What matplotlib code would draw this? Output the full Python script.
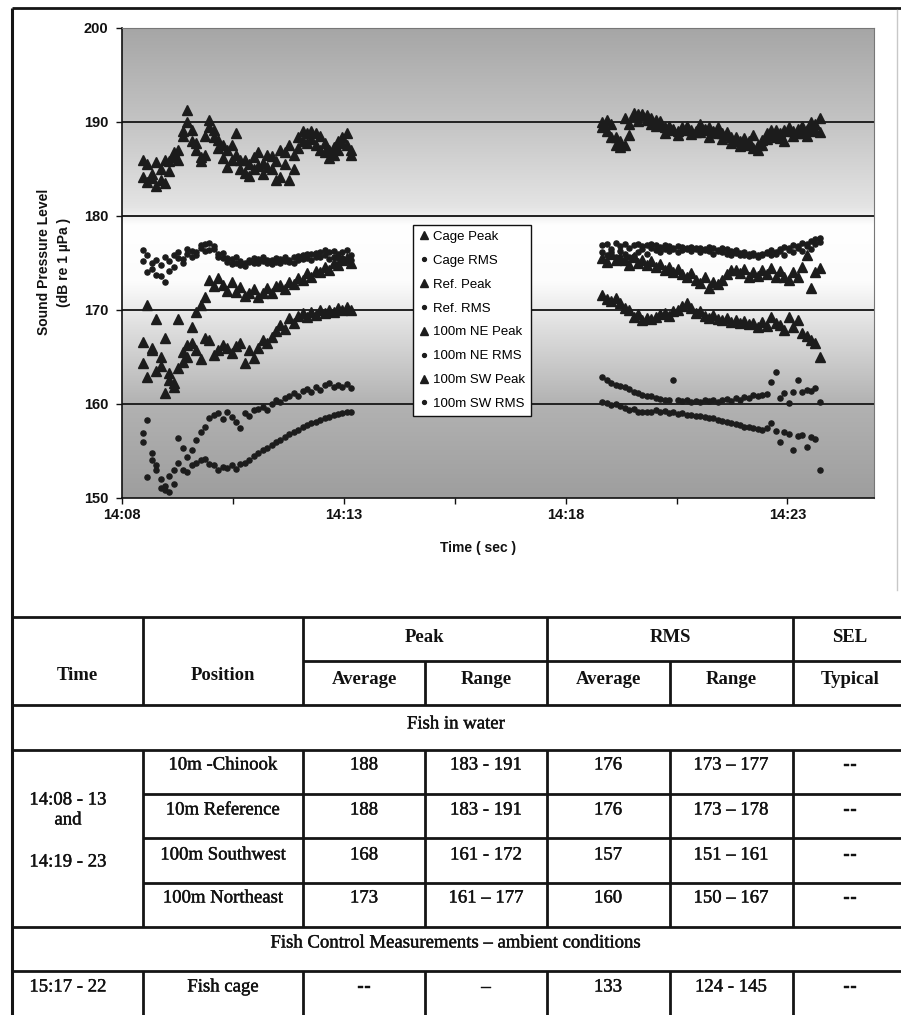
import numpy as np
import matplotlib
matplotlib.use("Agg")
import matplotlib.pyplot as plt
import matplotlib.patheffects as pe
from matplotlib.colors import LinearSegmentedColormap
from matplotlib.lines import Line2D

# time axis = minutes after 14:08, one sample every 6 s
seg1_start, seg2_start, sample_step = 0.47, 10.83, 0.1

# ---- first burst 14:08 - 14:13 ----
cage_peak_1 = [186.0, 185.5, 184.0, 185.7, 183.8, 183.5, 185.8, 186.3, 187.0, 189.0, 191.3, 189.1,
               187.8, 186.3, 188.5, 190.2, 189.1, 188.1, 187.5, 187.0, 186.0, 188.8, 186.0, 184.6,
               185.5, 186.3, 185.3, 185.6, 186.5, 185.0, 183.8, 187.0, 185.5, 183.8, 186.5, 188.4,
               188.0, 188.8, 188.2, 188.8, 187.0, 186.8, 187.0, 187.3, 188.0, 188.4, 187.5, 187.0]
ref_peak_1 = [184.2, 183.6, 184.5, 183.2, 185.0, 186.0, 184.8, 186.8, 186.0, 188.5, 190.0, 188.0,
              187.0, 185.8, 186.5, 189.5, 188.4, 187.2, 186.2, 185.2, 187.5, 186.5, 185.0, 186.0,
              184.3, 185.0, 186.8, 184.5, 185.2, 186.4, 185.8, 184.2, 186.8, 187.5, 185.0, 187.2,
              189.0, 187.8, 189.0, 187.5, 188.5, 187.8, 186.2, 186.5, 187.0, 187.8, 188.8, 186.5]
cage_rms_1 = [176.4, 174.0, 175.0, 173.7, 174.8, 173.0, 175.2, 174.6, 175.5, 175.0, 176.0, 175.6,
              176.2, 176.6, 176.3, 177.1, 176.5, 176.0, 175.5, 175.1, 175.4, 175.0, 174.8, 175.0,
              175.3, 175.0, 175.4, 175.2, 175.0, 175.3, 175.1, 175.4, 175.2, 175.3, 175.6, 175.3,
              175.8, 175.5, 176.0, 175.6, 176.2, 175.8, 176.2, 175.6, 176.0, 175.5, 175.2, 175.8]
ref_rms_1 = [175.2, 175.8, 174.4, 175.3, 173.6, 175.6, 174.2, 175.9, 176.2, 175.4, 176.5, 176.3,
             175.8, 176.9, 177.0, 176.4, 176.8, 175.6, 176.1, 175.5, 174.9, 175.6, 175.2, 174.7,
             175.1, 175.5, 175.0, 175.6, 175.3, 174.9, 175.5, 175.0, 175.6, 175.1, 175.0, 175.7,
             175.4, 176.0, 175.3, 176.1, 175.6, 176.4, 175.4, 176.3, 175.5, 176.2, 176.4, 175.3]
ne_peak_1 = [164.4, 162.9, 166.0, 163.5, 165.0, 161.2, 162.5, 161.8, 163.8, 165.5, 166.3, 168.2,
             169.8, 170.5, 171.4, 173.2, 172.5, 173.4, 172.7, 172.0, 173.0, 171.9, 172.4, 171.5,
             171.8, 172.2, 171.4, 171.8, 172.3, 171.8, 172.5, 172.7, 172.2, 173.0, 172.8, 173.4,
             173.2, 173.9, 173.5, 174.2, 174.0, 174.6, 174.3, 175.0, 174.8, 175.3, 175.5, 175.0]
ne_rms_1 = [156.9, 158.3, 154.0, 153.0, 151.1, 150.8, 152.3, 153.0, 153.7, 155.3, 154.4, 155.1,
            156.2, 157.0, 157.6, 158.5, 158.8, 159.0, 158.4, 159.1, 158.6, 158.1, 157.4, 159.0,
            158.7, 159.4, 159.5, 159.7, 159.4, 160.0, 160.4, 160.2, 160.6, 160.8, 161.2, 160.9,
            161.4, 161.6, 161.3, 161.8, 161.5, 162.0, 162.2, 161.8, 162.0, 161.8, 162.1, 161.7]
sw_peak_1 = [166.6, 170.5, 165.7, 169.0, 164.0, 167.0, 163.3, 162.2, 169.0, 164.5, 165.0, 166.5,
             165.7, 164.8, 167.0, 166.8, 165.2, 165.7, 166.3, 166.0, 165.4, 166.2, 166.5, 164.4,
             165.7, 164.9, 166.0, 166.8, 166.5, 167.1, 167.8, 168.4, 168.0, 169.1, 168.6, 169.4,
             169.7, 169.3, 169.8, 169.5, 170.0, 169.7, 170.0, 169.8, 170.2, 170.0, 170.3, 170.0]
sw_rms_1 = [156.0, 152.2, 154.8, 153.5, 152.0, 151.3, 150.6, 151.5, 156.4, 153.0, 152.8, 153.5,
            153.7, 154.0, 154.2, 153.6, 153.5, 153.0, 153.3, 153.2, 153.5, 153.1, 153.6, 153.7,
            154.0, 154.5, 154.8, 155.1, 155.3, 155.6, 156.0, 156.2, 156.5, 156.8, 157.0, 157.2,
            157.5, 157.8, 158.0, 158.1, 158.3, 158.5, 158.6, 158.8, 158.9, 159.0, 159.1, 159.2]

# ---- second burst 14:19 - 14:23 ----
cage_peak_2 = [189.5, 190.2, 188.4, 188.4, 187.3, 187.5, 188.6, 191.0, 190.8, 190.7,
               190.7, 190.4, 190.2, 189.8, 189.5, 189.3, 189.1, 189.0, 189.2, 189.3,
               189.1, 188.9, 188.9, 189.2, 189.5, 189.0, 188.8, 188.8, 188.6, 188.4,
               188.4, 188.0, 187.8, 187.5, 187.2, 187.0, 188.1, 188.8, 189.1, 188.4,
               188.8, 189.2, 189.5, 189.0, 188.8, 188.8, 189.2, 189.5, 189.8, 190.4]
ref_peak_2 = [190.0, 189.0, 189.8, 187.6, 188.0, 190.4, 189.8, 190.6, 190.1, 190.9,
              190.2, 189.8, 189.6, 190.1, 188.8, 189.6, 189.3, 188.6, 189.5, 189.6,
              188.7, 189.0, 189.8, 189.3, 188.4, 188.9, 189.5, 188.2, 188.9, 187.8,
              188.0, 187.4, 188.3, 188.0, 188.6, 187.6, 187.5, 188.2, 188.6, 189.2,
              188.3, 188.0, 189.0, 188.5, 189.3, 189.6, 188.5, 190.0, 189.0, 188.9]
cage_rms_2 = [176.9, 177.0, 176.2, 177.1, 176.8, 177.0, 175.6, 176.9, 177.0, 176.8,
              176.9, 177.0, 176.9, 176.7, 176.9, 176.8, 176.6, 176.8, 176.7, 176.5,
              176.7, 176.6, 176.6, 176.5, 176.7, 176.6, 176.4, 176.6, 176.5, 176.3,
              176.4, 176.1, 176.2, 176.0, 176.1, 175.9, 176.0, 176.1, 176.4, 176.2,
              176.5, 176.7, 176.6, 176.9, 176.8, 177.1, 177.0, 177.3, 177.5, 177.7]
ref_rms_2 = [176.2, 175.8, 176.5, 175.6, 176.3, 176.0, 176.6, 175.7, 176.2, 176.5,
             176.0, 176.6, 176.4, 176.2, 176.5, 176.3, 176.5, 176.2, 176.4, 176.6,
             176.3, 176.5, 176.2, 176.4, 176.3, 176.0, 176.3, 176.2, 176.0, 175.9,
             176.1, 175.8, 175.9, 175.7, 175.8, 175.6, 175.9, 176.2, 175.8, 176.0,
             176.3, 175.9, 176.4, 176.2, 176.6, 176.3, 176.8, 176.5, 177.0, 177.2]
ne_peak_2 = [175.5, 175.1, 176.0, 175.3, 175.6, 175.3, 174.8, 175.6, 175.0, 175.3,
             174.8, 175.2, 174.6, 174.9, 174.3, 174.6, 174.0, 174.4, 173.8, 173.5,
             173.9, 173.2, 172.9, 173.5, 172.3, 173.0, 172.8, 173.2, 173.8, 174.3,
             174.3, 173.9, 174.4, 173.5, 174.0, 173.6, 174.3, 173.8, 174.5, 173.5,
             174.2, 173.5, 173.2, 174.0, 173.5, 174.6, 175.9, 172.3, 174.0, 174.5]
ne_rms_2 = [162.9, 162.6, 162.2, 162.0, 161.9, 161.8, 161.6, 161.3, 161.2, 161.0,
            160.9, 160.8, 160.6, 160.5, 160.4, 160.4, 162.6, 160.4, 160.3, 160.4,
            160.2, 160.3, 160.2, 160.4, 160.3, 160.4, 160.2, 160.4, 160.5, 160.3,
            160.6, 160.4, 160.7, 160.6, 161.0, 160.8, 161.0, 161.1, 162.3, 163.4,
            160.6, 161.2, 160.1, 161.3, 162.6, 161.3, 161.5, 161.4, 161.7, 160.2]
sw_peak_2 = [171.6, 171.2, 171.0, 171.3, 170.7, 170.2, 170.0, 169.3, 169.6, 168.9,
             169.2, 169.0, 169.3, 169.6, 169.7, 169.4, 169.9, 170.0, 170.4, 170.7,
             170.2, 169.7, 169.9, 169.4, 169.1, 169.5, 169.0, 168.9, 169.2, 168.7,
             168.9, 168.6, 168.8, 168.5, 168.6, 168.2, 168.7, 168.3, 169.3, 168.6,
             168.4, 167.9, 169.3, 168.2, 168.9, 167.5, 167.2, 166.8, 166.5, 165.0]
sw_rms_2 = [160.2, 160.1, 159.9, 160.0, 159.8, 159.6, 159.4, 159.5, 159.2, 159.1,
            159.2, 159.1, 159.4, 159.2, 159.3, 159.0, 159.1, 158.9, 159.0, 158.8,
            158.8, 158.7, 158.7, 158.6, 158.5, 158.5, 158.3, 158.2, 158.1, 158.0,
            157.9, 157.8, 157.6, 157.5, 157.4, 157.3, 157.2, 157.4, 158.0, 157.1,
            156.0, 157.0, 156.8, 155.1, 156.6, 156.7, 155.4, 156.5, 156.3, 153.0]

series = [
    ("Cage Peak", cage_peak_1, cage_peak_2, "^"),
    ("Cage RMS", cage_rms_1, cage_rms_2, "o"),
    ("Ref. Peak", ref_peak_1, ref_peak_2, "^"),
    ("Ref. RMS", ref_rms_1, ref_rms_2, "o"),
    ("100m NE Peak", ne_peak_1, ne_peak_2, "^"),
    ("100m NE RMS", ne_rms_1, ne_rms_2, "o"),
    ("100m SW Peak", sw_peak_1, sw_peak_2, "^"),
    ("100m SW RMS", sw_rms_1, sw_rms_2, "o"),
]

x_tick_labels = ["14:08", "", "14:13", "", "14:18", "", "14:23"]
y_ticks = [150, 160, 170, 180, 190, 200]

# table content
tbl_positions = ["10m -Chinook", "10m Reference", "100m Southwest", "100m Northeast"]
tbl_peak_avg = ["188", "188", "168", "173"]
tbl_peak_range = ["183 - 191", "183 - 191", "161 - 172", "161 \u2013 177"]
tbl_rms_avg = ["176", "176", "157", "160"]
tbl_rms_range = ["173 \u2013 177", "173 \u2013 178", "151 \u2013 161", "150 \u2013 167"]
tbl_sel = ["--", "--", "--", "--"]
ctrl_row = ["15:17 - 22", "Fish cage", "--", "\u2013", "133", "124 - 145", "--"]

W, H = 901, 1015
fig = plt.figure(figsize=(W / 100, H / 100), dpi=100)
fig.patch.set_facecolor("white")

# overlay in pixel coordinates for frame, titles and the table
ov = fig.add_axes([0, 0, 1, 1])
ov.set_xlim(0, W)
ov.set_ylim(H, 0)
ov.axis("off")

ink = "#151515"
ov.plot([12, 12], [8, H], color=ink, lw=2.2, solid_capstyle="butt")
ov.plot([12, W], [8, 8], color=ink, lw=2.0, solid_capstyle="butt")
ov.plot([897, 897], [10, 590], color="#c8c8c8", lw=1.0)

# chart
ax = fig.add_axes([122 / W, 1 - 498 / H, 752 / W, 470 / H])
x_max = 16.95
grad_cmap = LinearSegmentedColormap.from_list(
    "bg", [(0.0, "#9e9e9e"), (0.2, "#b2b2b2"), (0.36, "#dedede"), (0.46, "#fcfcfc"),
           (0.58, "#ffffff"), (0.62, "#e4e4e4"), (0.8, "#c4c4c4"), (1.0, "#a6a6a6")])
ax.imshow(np.linspace(0, 1, 256).reshape(-1, 1), extent=[0, x_max, 150, 200], origin="lower",
          aspect="auto", cmap=grad_cmap, zorder=0, interpolation="bilinear")
for g in [160, 170, 180, 190]:
    ax.axhline(g, color="#222222", lw=1.4, zorder=1)

handles = []
for name, v1, v2, mk in series:
    t1 = seg1_start + sample_step * np.arange(len(v1))
    t2 = seg2_start + sample_step * np.arange(len(v2))
    ms = 7.3 if mk == "^" else 3.7
    for t, v in [(t1, v1), (t2, v2)]:
        ax.plot(t, v, ls="none", marker=mk, ms=ms, color="#1c1c1c", mec="#1c1c1c", zorder=3)
    handles.append(Line2D([], [], ls="none", marker=mk, ms=5.5 if mk == "^" else 2.8,
                          color="#1c1c1c", label=name))

ax.set_xlim(0, x_max)
ax.set_ylim(150, 200)
ax.set_xticks(np.arange(0, 15.1, 2.5))
ax.set_xticklabels(x_tick_labels)
ax.set_yticks(y_ticks)
ax.set_yticklabels([str(v) for v in y_ticks])
for lab in ax.get_xticklabels() + ax.get_yticklabels():
    lab.set_fontfamily("Liberation Sans")
    lab.set_fontweight("bold")
    lab.set_fontsize(10.5)
ax.tick_params(axis="y", length=4, width=1, pad=6, colors="#111")
ax.tick_params(axis="x", length=4, width=1, pad=3, colors="#111")
ax.spines["left"].set_color("#111")
ax.spines["bottom"].set_color("#111")
ax.spines["left"].set_linewidth(1.2)
ax.spines["bottom"].set_linewidth(1.2)
ax.spines["top"].set_color("#777")
ax.spines["right"].set_color("#777")

leg = ax.legend(handles=handles, loc="upper left", bbox_to_anchor=(0.387, 0.581),
                prop={"family": "Liberation Sans", "size": 9.5}, frameon=True,
                fancybox=False, framealpha=1, edgecolor="#111", borderaxespad=0,
                borderpad=0.45, labelspacing=0.88, handlelength=0.7, handletextpad=0.35)
leg.get_frame().set_linewidth(1.0)
leg.set_zorder(5)

sans = {"family": "Liberation Sans", "weight": "bold", "color": "#111"}
ov.text(44, 262, "Sound Pressure Level", rotation=90, ha="center", va="center", fontsize=10, **sans)
ov.text(64, 262, "(dB re 1 \u00b5Pa )", rotation=90, ha="center", va="center", fontsize=10, **sans)
ov.text(478, 548, "Time ( sec )", ha="center", va="center", fontsize=10, **sans)

# table grid
lw = 2.0
cols = [12, 143, 303, 425, 547, 670, 793]
for y, x0 in [(617, 12), (661, 303), (705, 12), (750, 12), (794, 143), (838, 143),
              (883, 143), (927, 12), (971, 12)]:
    ov.plot([x0, W], [y, y], color=ink, lw=lw, solid_capstyle="butt")
for x in cols[1:]:
    top = 661 if x in (425, 670) else 617
    for y0, y1 in [(top, 705), (750, 927), (971, H)]:
        ov.plot([x, x], [y0, y1], color=ink, lw=lw, solid_capstyle="butt")

# scanned print looks a little heavier than a plain regular face
heavy = [pe.withStroke(linewidth=0.3, foreground="#111")]
serif_b = {"family": "Liberation Serif", "weight": "bold", "size": 13.5, "color": "#111"}
serif = {"family": "Liberation Serif", "size": 13.5, "color": "#111", "path_effects": heavy}
centers = [68, 223, 364, 486, 608, 731, 850]

ov.text(425, 637, "Peak", ha="center", va="center", **serif_b)
ov.text(670, 637, "RMS", ha="center", va="center", **serif_b)
ov.text(850, 637, "SEL", ha="center", va="center", **serif_b)
ov.text(77, 675, "Time", ha="center", va="center", **serif_b)
ov.text(223, 675, "Position", ha="center", va="center", **serif_b)
for cx, lab in zip(centers[2:], ["Average", "Range", "Average", "Range", "Typical"]):
    ov.text(cx, 679, lab, ha="center", va="center", **serif_b)
ov.text(456, 724, "Fish in water", ha="center", va="center", **serif)

row_y = [765, 810, 855, 898]
for i, y in enumerate(row_y):
    vals = [tbl_positions[i], tbl_peak_avg[i], tbl_peak_range[i], tbl_rms_avg[i],
            tbl_rms_range[i], tbl_sel[i]]
    for cx, v in zip(centers[1:], vals):
        ov.text(cx, y, v, ha="center", va="center", **serif)
ov.text(68, 800, "14:08 - 13", ha="center", va="center", **serif)
ov.text(68, 820, "and", ha="center", va="center", **serif)
ov.text(68, 862, "14:19 - 23", ha="center", va="center", **serif)
ov.text(456, 943, "Fish Control Measurements \u2013 ambient conditions", ha="center",
        va="center", **serif)
for cx, v in zip(centers, ctrl_row):
    ov.text(cx, 987, v, ha="center", va="center", **serif)

fig.savefig("out.png", dpi=100)
